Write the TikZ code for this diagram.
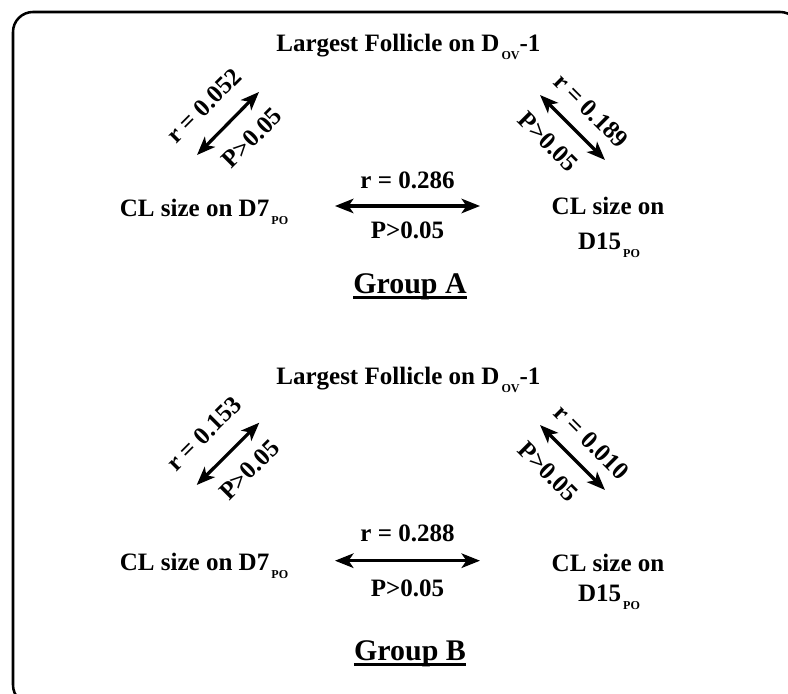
\documentclass[tikz,border=0pt]{standalone}
\usepackage{fontspec}
\setmainfont{Liberation Serif}
\usepackage{tikz}
\usetikzlibrary{arrows.meta,positioning}
\newcommand\sbs[1]{\kern1.5pt\raisebox{-0.2cm}{\fontsize{8.6}{9}\selectfont #1}}
\tikzset{
  lbl/.style={inner sep=0pt,font=\bfseries\fontsize{17.8}{21}\selectfont},
  grp/.style={inner sep=0pt,font=\bfseries\fontsize{21.3}{25}\selectfont},
  biarrow/.style={{Stealth[length=0.46cm,width=0.36cm,inset=0.12cm]}-{Stealth[length=0.46cm,width=0.36cm,inset=0.12cm]},line width=2.3pt}
}

\begin{document}
\begin{tikzpicture}[x=1cm,y=1cm]
\path[use as bounding box] (0,0) rectangle (19.70,17.325);
\clip (0,0) rectangle (19.70,17.325);
\draw[line width=1.8pt,rounded corners=0.5cm] (0.325,17.025) rectangle (20.00,-0.30);
% Group A
\node[lbl,anchor=base] (titleA) at (10.21,16.025) {Largest Follicle on D\sbs{OV}-1};
\node[lbl,anchor=base] (d7A) at (5.10,11.90) {CL size on D7\sbs{PO}};
\node[lbl,anchor=base] (d15Aa) at (15.20,11.95) {CL size on};
\node[lbl,anchor=base] (d15Ab) at (15.225,11.075) {D15\sbs{PO}};
\coordinate (lA1) at (4.925,13.45);
\coordinate (lA2) at (6.475,15.025);
\coordinate (rA1) at (13.50,14.95);
\coordinate (rA2) at (15.125,13.325);
\coordinate (mA1) at (8.375,12.175);
\coordinate (mA2) at (12.00,12.175);
\draw[biarrow] (lA1) -- (lA2);
\draw[biarrow] (rA1) -- (rA2);
\draw[biarrow] (mA1) -- node[lbl,above=0.38cm] (rmA) {r = 0.286} node[lbl,below=0.345cm] (pmA) {P>0.05} (mA2);
\node[lbl,rotate=45] (rlA) at (5.10,14.68) {r = 0.052};
\node[lbl,rotate=45] (plA) at (6.30,13.87) {P>0.05};
\node[lbl,rotate=-45] (rrA) at (14.78,14.56) {r = 0.189};
\node[lbl,rotate=-45] (prA) at (13.70,13.78) {P>0.05};
\node[grp,anchor=base] (groupA) at (10.25,9.99) {Group A};
\draw[line width=1.9pt] ([yshift=-0.11cm]groupA.base west) -- ([yshift=-0.11cm]groupA.base east);
% Group B
\node[lbl,anchor=base] (titleB) at (10.21,7.7075) {Largest Follicle on D\sbs{OV}-1};
\node[lbl,anchor=base] (d7B) at (5.10,3.0575) {CL size on D7\sbs{PO}};
\node[lbl,anchor=base] (d15Ba) at (15.20,3.0325) {CL size on};
\node[lbl,anchor=base] (d15Bb) at (15.225,2.2825) {D15\sbs{PO}};
\coordinate (lB1) at (4.9175,5.20);
\coordinate (lB2) at (6.4825,6.7575);
\coordinate (rB1) at (13.50,6.70);
\coordinate (rB2) at (15.125,5.075);
\coordinate (mB1) at (8.375,3.3075);
\coordinate (mB2) at (12.00,3.3075);
\draw[biarrow] (lB1) -- (lB2);
\draw[biarrow] (rB1) -- (rB2);
\draw[biarrow] (mB1) -- node[lbl,above=0.42cm] (rmB) {r = 0.288} node[lbl,below=0.43cm] (pmB) {P>0.05} (mB2);
\node[lbl,rotate=45] (rlB) at (5.10,6.48) {r = 0.153};
\node[lbl,rotate=45] (plB) at (6.23,5.57) {P>0.05};
\node[lbl,rotate=-45] (rrB) at (14.79,6.27) {r = 0.010};
\node[lbl,rotate=-45] (prB) at (13.70,5.53) {P>0.05};
\node[grp,anchor=base] (groupB) at (10.25,0.825) {Group B};
\draw[line width=1.9pt] ([yshift=-0.11cm]groupB.base west) -- ([yshift=-0.11cm]groupB.base east);
\end{tikzpicture}
\end{document}
